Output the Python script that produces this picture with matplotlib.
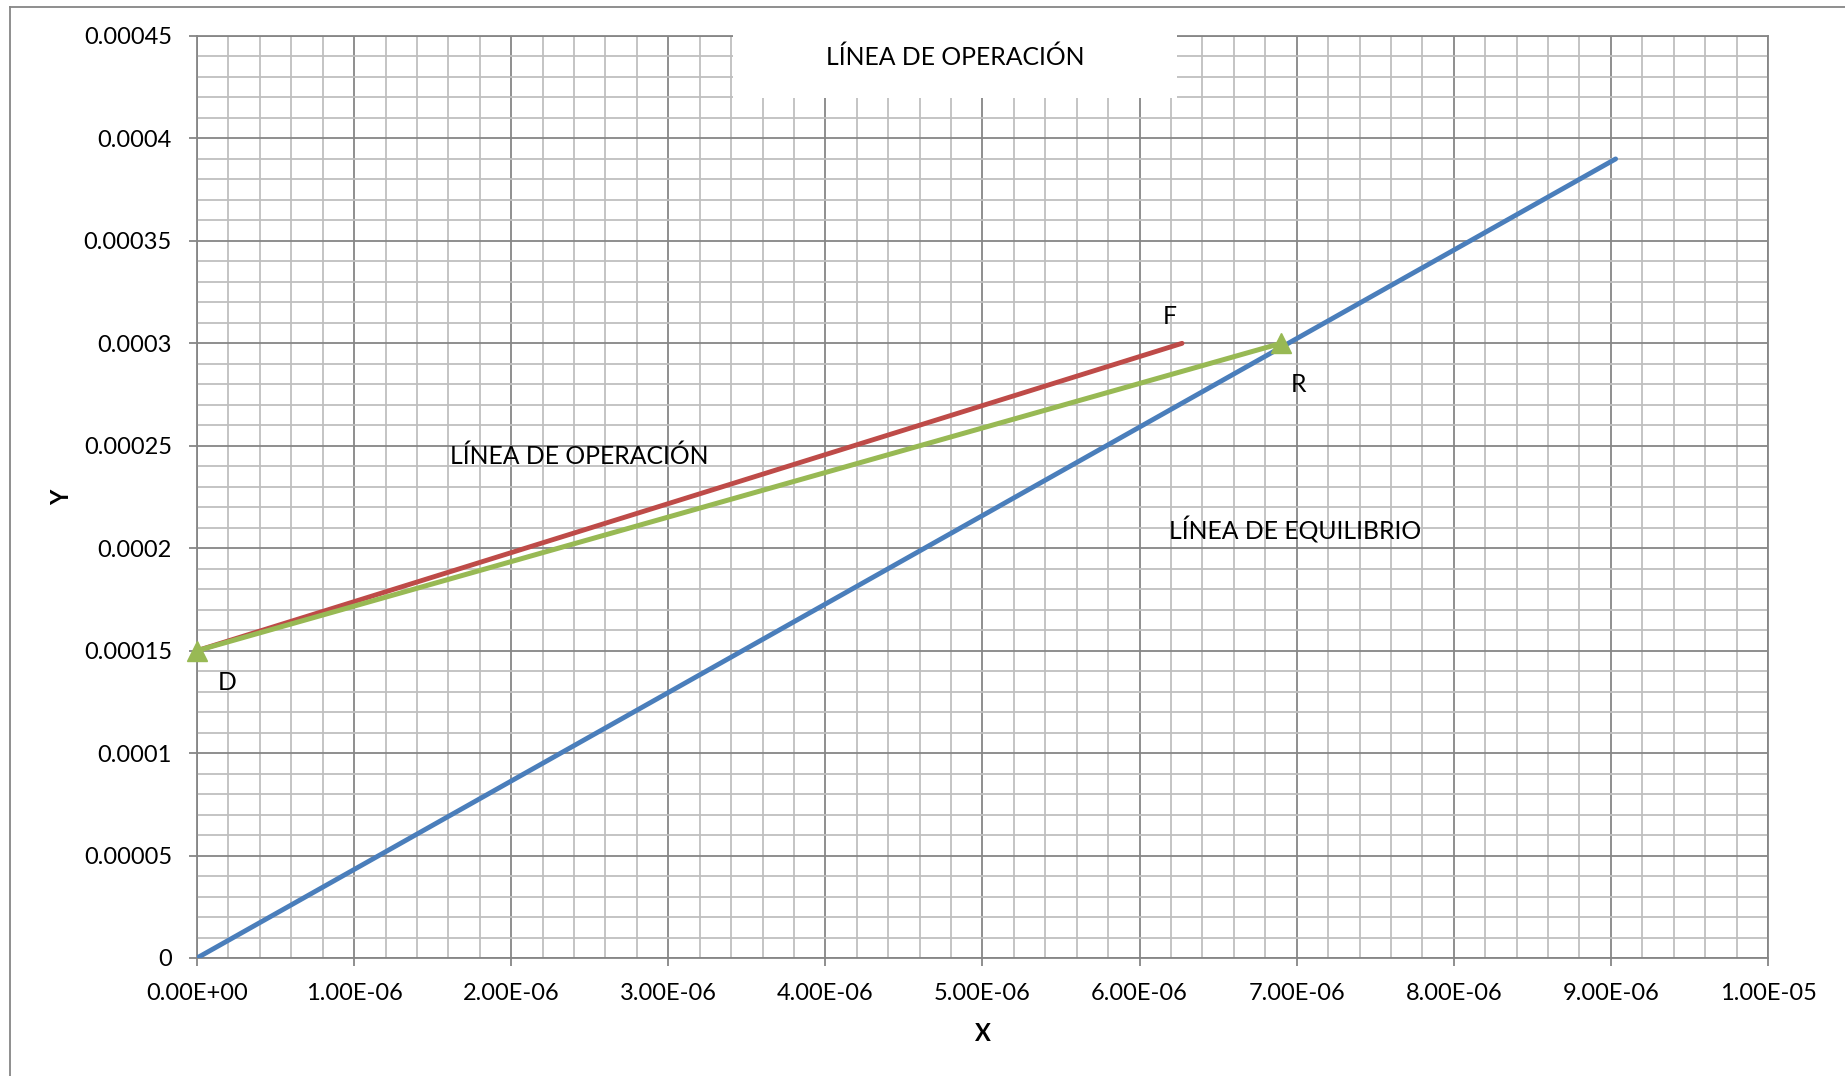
import matplotlib
matplotlib.use("Agg")
import matplotlib.pyplot as plt
from matplotlib.ticker import MultipleLocator, FixedLocator
from matplotlib.patches import Rectangle
from matplotlib.lines import Line2D

# ---- data ----
eq_x = [0.0, 9.03e-6]
eq_y = [0.0, 3.90e-4]

op_red_x = [0.0, 6.27e-6]
op_red_y = [1.5e-4, 3.0e-4]

op_green_x = [0.0, 6.90e-6]
op_green_y = [1.5e-4, 3.0e-4]

x_ticks = [i * 1e-6 for i in range(11)]
x_tick_labels = ["0.00E+00", "1.00E-06", "2.00E-06", "3.00E-06", "4.00E-06",
                 "5.00E-06", "6.00E-06", "7.00E-06", "8.00E-06", "9.00E-06", "1.00E-05"]
y_ticks = [i * 5e-5 for i in range(10)]
y_tick_labels = ["0", "0.00005", "0.0001", "0.00015", "0.0002", "0.00025",
                 "0.0003", "0.00035", "0.0004", "0.00045"]

point_labels = ["D", "F", "R"]
point_label_x = [0.19e-6, 6.19e-6, 7.01e-6]
point_label_y = [1.347e-4, 3.13e-4, 2.80e-4]

title_text = "LÍNEA DE OPERACIÓN"
op_label = "LÍNEA DE OPERACIÓN"
eq_label = "LÍNEA DE EQUILIBRIO"

plt.rcParams['font.family'] = ['Lato', 'DejaVu Sans']
FS = 17
FS_T = 17.8

fig = plt.figure(figsize=(18.45, 10.76), dpi=100)
ax = fig.add_axes([197/1845, 1 - 958/1076, (1768-197)/1845, (958-36)/1076])

ax.set_xlim(0, 1e-5)
ax.set_ylim(0, 4.5e-4)

ax.xaxis.set_major_locator(FixedLocator(x_ticks))
ax.set_xticklabels(x_tick_labels)
ax.yaxis.set_major_locator(FixedLocator(y_ticks))
ax.set_yticklabels(y_tick_labels)
ax.xaxis.set_minor_locator(MultipleLocator(2e-7))
ax.yaxis.set_minor_locator(MultipleLocator(1e-5))

ax.grid(which='minor', color='#bfbfbf', linewidth=1.3, zorder=0)
ax.grid(which='major', color='#868686', linewidth=1.3, zorder=0)
ax.set_axisbelow(True)
for s in ax.spines.values():
    s.set_color('#868686')
    s.set_linewidth(1.3)

ax.tick_params(which='major', length=6, width=1.3, color='#868686',
               labelsize=FS, pad=12)
ax.tick_params(which='minor', length=0)

ax.plot(eq_x, eq_y, color='#4a7ebb', linewidth=3.5, solid_capstyle='round', zorder=4)
ax.plot(op_red_x, op_red_y, color='#be4b48', linewidth=3.5, solid_capstyle='round', zorder=4)
ax.plot(op_green_x, op_green_y, color='#98b954', linewidth=3.6, marker='^',
        markersize=14, solid_capstyle='round', zorder=5, clip_on=False)

for t, x, y in zip(point_labels, point_label_x, point_label_y):
    ax.text(x, y, t, fontsize=FS_T, ha='center', va='center', zorder=6)

ax.text(2.43e-6, 2.45e-4, op_label, fontsize=FS_T, ha='center', va='center', zorder=6)
ax.text(6.99e-6, 2.09e-4, eq_label, fontsize=FS_T, ha='center', va='center', zorder=6)

# title box covering the grid
ax.add_patch(Rectangle((0.341, 0.9328), 0.283, 0.08, transform=ax.transAxes,
                       facecolor='white', edgecolor='none', zorder=3.5, clip_on=False))
ax.text((0.341 + 0.624) / 2, 1 - (57 - 36) / 922, title_text, transform=ax.transAxes,
        fontsize=FS_T, ha='center', va='center', zorder=6)

ax.set_xlabel("X", fontsize=FS, fontweight='bold', labelpad=13)
ax.set_ylabel("Y", fontsize=FS, fontweight='bold', labelpad=8)

# outer chart border (cropped at right/bottom)
fig.add_artist(Line2D([10/1845, 10/1845], [0, 1 - 6.5/1076], color='#868686', linewidth=1.3))
fig.add_artist(Line2D([10/1845, 1], [1 - 6.5/1076, 1 - 6.5/1076], color='#868686', linewidth=1.3))

fig.savefig("out.png", dpi=100, facecolor='white')
